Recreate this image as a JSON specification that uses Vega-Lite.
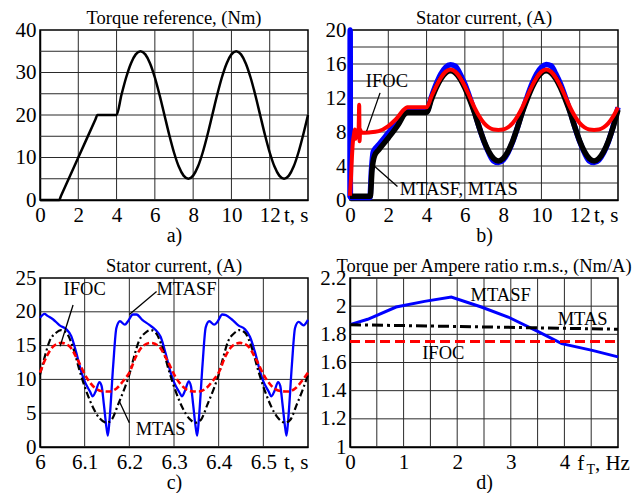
{
  "$schema": "https://vega.github.io/schema/vega-lite/v6.json",
  "background": "white",
  "padding": {"left": 14, "top": 7, "right": 0, "bottom": 0},
  "config": {
    "font": "Liberation Serif",
    "view": {"stroke": "black", "strokeWidth": 1.5},
    "axis": {
      "grid": false,
      "labelFont": "Liberation Serif", "labelFontSize": 21, "labelColor": "black",
      "tickSize": 0, "domainColor": "black", "domainWidth": 1.5,
      "labelOverlap": false, "labelFlush": false,
      "titleFont": "Liberation Serif", "titleFontSize": 20, "titleFontWeight": "normal", "titleColor": "black"
    },
    "axisX": {"labelPadding": 4, "titlePadding": 0},
    "axisY": {"labelPadding": 4},
    "title": {"font": "Liberation Serif", "fontSize": 18.5, "fontWeight": "normal", "color": "black", "baseline": "alphabetic", "offset": -8, "frame": "group"},
    "text": {"font": "Liberation Serif", "fontSize": 18.5, "color": "black"}
  },
  "datasets": {
    "gridA": [
      {"t": 2, "t2": 2, "torque": 0, "torque2": 40}, {"t": 4, "t2": 4, "torque": 0, "torque2": 40},
      {"t": 6, "t2": 6, "torque": 0, "torque2": 40}, {"t": 8, "t2": 8, "torque": 0, "torque2": 40},
      {"t": 10, "t2": 10, "torque": 0, "torque2": 40}, {"t": 12, "t2": 12, "torque": 0, "torque2": 40},
      {"t": 0, "t2": 14, "torque": 5, "torque2": 5}, {"t": 0, "t2": 14, "torque": 10, "torque2": 10},
      {"t": 0, "t2": 14, "torque": 15, "torque2": 15}, {"t": 0, "t2": 14, "torque": 20, "torque2": 20},
      {"t": 0, "t2": 14, "torque": 25, "torque2": 25}, {"t": 0, "t2": 14, "torque": 30, "torque2": 30},
      {"t": 0, "t2": 14, "torque": 35, "torque2": 35}
    ],
    "gridB": [
      {"t": 2, "t2": 2, "current": 0, "current2": 20}, {"t": 4, "t2": 4, "current": 0, "current2": 20},
      {"t": 6, "t2": 6, "current": 0, "current2": 20}, {"t": 8, "t2": 8, "current": 0, "current2": 20},
      {"t": 10, "t2": 10, "current": 0, "current2": 20}, {"t": 12, "t2": 12, "current": 0, "current2": 20},
      {"t": 0, "t2": 14, "current": 2, "current2": 2}, {"t": 0, "t2": 14, "current": 4, "current2": 4},
      {"t": 0, "t2": 14, "current": 6, "current2": 6}, {"t": 0, "t2": 14, "current": 8, "current2": 8},
      {"t": 0, "t2": 14, "current": 10, "current2": 10}, {"t": 0, "t2": 14, "current": 12, "current2": 12},
      {"t": 0, "t2": 14, "current": 14, "current2": 14}, {"t": 0, "t2": 14, "current": 16, "current2": 16},
      {"t": 0, "t2": 14, "current": 18, "current2": 18}
    ],
    "gridC": [
      {"t": 6.1, "t2": 6.1, "current": 0, "current2": 25}, {"t": 6.2, "t2": 6.2, "current": 0, "current2": 25},
      {"t": 6.3, "t2": 6.3, "current": 0, "current2": 25}, {"t": 6.4, "t2": 6.4, "current": 0, "current2": 25},
      {"t": 6.5, "t2": 6.5, "current": 0, "current2": 25},
      {"t": 6, "t2": 6.6, "current": 5, "current2": 5}, {"t": 6, "t2": 6.6, "current": 10, "current2": 10},
      {"t": 6, "t2": 6.6, "current": 15, "current2": 15}, {"t": 6, "t2": 6.6, "current": 20, "current2": 20}
    ],
    "gridD": [
      {"f": 0.5, "f2": 0.5, "ratio": 1, "ratio2": 2.2}, {"f": 1, "f2": 1, "ratio": 1, "ratio2": 2.2},
      {"f": 1.5, "f2": 1.5, "ratio": 1, "ratio2": 2.2}, {"f": 2, "f2": 2, "ratio": 1, "ratio2": 2.2},
      {"f": 2.5, "f2": 2.5, "ratio": 1, "ratio2": 2.2}, {"f": 3, "f2": 3, "ratio": 1, "ratio2": 2.2},
      {"f": 3.5, "f2": 3.5, "ratio": 1, "ratio2": 2.2}, {"f": 4, "f2": 4, "ratio": 1, "ratio2": 2.2},
      {"f": 4.5, "f2": 4.5, "ratio": 1, "ratio2": 2.2},
      {"f": 0, "f2": 5, "ratio": 1.2, "ratio2": 1.2}, {"f": 0, "f2": 5, "ratio": 1.4, "ratio2": 1.4},
      {"f": 0, "f2": 5, "ratio": 1.6, "ratio2": 1.6}, {"f": 0, "f2": 5, "ratio": 1.8, "ratio2": 1.8},
      {"f": 0, "f2": 5, "ratio": 2.0, "ratio2": 2.0}
    ],
    "torque": [
      {"t": 0, "torque": 0}, {"t": 1, "torque": 0}, {"t": 1.1, "torque": 1}, {"t": 2, "torque": 10}, {"t": 2.9, "torque": 19},
      {"t": 3, "torque": 20}, {"t": 4, "torque": 20},
      {"t": 4.25, "torque": 24.64}, {"t": 4.5, "torque": 28.82}, {"t": 4.75, "torque": 32.14}, {"t": 5, "torque": 34.27},
      {"t": 5.25, "torque": 35}, {"t": 5.5, "torque": 34.27}, {"t": 5.75, "torque": 32.14}, {"t": 6, "torque": 28.82},
      {"t": 6.25, "torque": 24.64}, {"t": 6.5, "torque": 20}, {"t": 6.75, "torque": 15.36}, {"t": 7, "torque": 11.18},
      {"t": 7.25, "torque": 7.86}, {"t": 7.5, "torque": 5.73}, {"t": 7.75, "torque": 5}, {"t": 8, "torque": 5.73},
      {"t": 8.25, "torque": 7.86}, {"t": 8.5, "torque": 11.18}, {"t": 8.75, "torque": 15.36}, {"t": 9, "torque": 20},
      {"t": 9.25, "torque": 24.64}, {"t": 9.5, "torque": 28.82}, {"t": 9.75, "torque": 32.14}, {"t": 10, "torque": 34.27},
      {"t": 10.25, "torque": 35}, {"t": 10.5, "torque": 34.27}, {"t": 10.75, "torque": 32.14}, {"t": 11, "torque": 28.82},
      {"t": 11.25, "torque": 24.64}, {"t": 11.5, "torque": 20}, {"t": 11.75, "torque": 15.36}, {"t": 12, "torque": 11.18},
      {"t": 12.25, "torque": 7.86}, {"t": 12.5, "torque": 5.73}, {"t": 12.75, "torque": 5}, {"t": 13, "torque": 5.73},
      {"t": 13.25, "torque": 7.86}, {"t": 13.5, "torque": 11.18}, {"t": 13.75, "torque": 15.36}, {"t": 14, "torque": 20}
    ],
    "statorB": [
      {"series": "MTASF", "t": 0, "current": 0.3}, {"series": "MTASF", "t": 0.01, "current": 20}, {"series": "MTASF", "t": 0.02, "current": 0.3},
      {"series": "MTASF", "t": 1.04, "current": 0.3}, {"series": "MTASF", "t": 1.12, "current": 3.5}, {"series": "MTASF", "t": 1.22, "current": 5.7},
      {"series": "MTASF", "t": 1.5, "current": 6.5}, {"series": "MTASF", "t": 2, "current": 7.9}, {"series": "MTASF", "t": 2.5, "current": 9.3},
      {"series": "MTASF", "t": 2.88, "current": 10.4}, {"series": "MTASF", "t": 3, "current": 10.45}, {"series": "MTASF", "t": 4, "current": 10.4},
      {"series": "MTASF", "t": 4.25, "current": 12.1}, {"series": "MTASF", "t": 4.5, "current": 13.63}, {"series": "MTASF", "t": 4.75, "current": 14.85},
      {"series": "MTASF", "t": 5, "current": 15.63}, {"series": "MTASF", "t": 5.25, "current": 15.9}, {"series": "MTASF", "t": 5.5, "current": 15.75},
      {"series": "MTASF", "t": 5.75, "current": 14.85}, {"series": "MTASF", "t": 6, "current": 13.63}, {"series": "MTASF", "t": 6.25, "current": 12.1},
      {"series": "MTASF", "t": 6.5, "current": 10.4}, {"series": "MTASF", "t": 6.75, "current": 8.55}, {"series": "MTASF", "t": 7, "current": 6.87},
      {"series": "MTASF", "t": 7.25, "current": 5.55}, {"series": "MTASF", "t": 7.5, "current": 4.6}, {"series": "MTASF", "t": 7.75, "current": 4.4},
      {"series": "MTASF", "t": 8, "current": 4.69}, {"series": "MTASF", "t": 8.25, "current": 5.55}, {"series": "MTASF", "t": 8.5, "current": 6.87},
      {"series": "MTASF", "t": 8.75, "current": 8.55}, {"series": "MTASF", "t": 9, "current": 10.4}, {"series": "MTASF", "t": 9.25, "current": 12.1},
      {"series": "MTASF", "t": 9.5, "current": 13.63}, {"series": "MTASF", "t": 9.75, "current": 14.85}, {"series": "MTASF", "t": 10, "current": 15.63},
      {"series": "MTASF", "t": 10.25, "current": 15.95}, {"series": "MTASF", "t": 10.5, "current": 15.8}, {"series": "MTASF", "t": 10.75, "current": 14.85},
      {"series": "MTASF", "t": 11, "current": 13.63}, {"series": "MTASF", "t": 11.25, "current": 12.1}, {"series": "MTASF", "t": 11.5, "current": 10.4},
      {"series": "MTASF", "t": 11.75, "current": 8.55}, {"series": "MTASF", "t": 12, "current": 6.87}, {"series": "MTASF", "t": 12.25, "current": 5.55},
      {"series": "MTASF", "t": 12.5, "current": 4.6}, {"series": "MTASF", "t": 12.75, "current": 4.4}, {"series": "MTASF", "t": 13, "current": 4.69},
      {"series": "MTASF", "t": 13.25, "current": 5.55}, {"series": "MTASF", "t": 13.5, "current": 6.87}, {"series": "MTASF", "t": 13.75, "current": 8.7},
      {"series": "MTASF", "t": 14, "current": 10.9},
      {"series": "MTAS", "t": 0, "current": 0.45}, {"series": "MTAS", "t": 1.06, "current": 0.45}, {"series": "MTAS", "t": 1.15, "current": 3.5},
      {"series": "MTAS", "t": 1.28, "current": 5.2}, {"series": "MTAS", "t": 1.5, "current": 5.9}, {"series": "MTAS", "t": 2, "current": 7.3},
      {"series": "MTAS", "t": 2.5, "current": 8.8}, {"series": "MTAS", "t": 2.9, "current": 10.2}, {"series": "MTAS", "t": 3, "current": 10.3},
      {"series": "MTAS", "t": 4, "current": 10.3},
      {"series": "MTAS", "t": 4.25, "current": 11.81}, {"series": "MTAS", "t": 4.5, "current": 13.18}, {"series": "MTAS", "t": 4.75, "current": 14.26},
      {"series": "MTAS", "t": 5, "current": 14.96}, {"series": "MTAS", "t": 5.25, "current": 15.2}, {"series": "MTAS", "t": 5.5, "current": 14.96},
      {"series": "MTAS", "t": 5.75, "current": 14.26}, {"series": "MTAS", "t": 6, "current": 13.18}, {"series": "MTAS", "t": 6.25, "current": 11.81},
      {"series": "MTAS", "t": 6.5, "current": 10.3}, {"series": "MTAS", "t": 6.75, "current": 8.54}, {"series": "MTAS", "t": 7, "current": 6.95},
      {"series": "MTAS", "t": 7.25, "current": 5.69}, {"series": "MTAS", "t": 7.5, "current": 4.88}, {"series": "MTAS", "t": 7.75, "current": 4.6},
      {"series": "MTAS", "t": 8, "current": 4.88}, {"series": "MTAS", "t": 8.25, "current": 5.69}, {"series": "MTAS", "t": 8.5, "current": 6.95},
      {"series": "MTAS", "t": 8.75, "current": 8.54}, {"series": "MTAS", "t": 9, "current": 10.3}, {"series": "MTAS", "t": 9.25, "current": 11.81},
      {"series": "MTAS", "t": 9.5, "current": 13.18}, {"series": "MTAS", "t": 9.75, "current": 14.26}, {"series": "MTAS", "t": 10, "current": 14.96},
      {"series": "MTAS", "t": 10.25, "current": 15.2}, {"series": "MTAS", "t": 10.5, "current": 14.96}, {"series": "MTAS", "t": 10.75, "current": 14.26},
      {"series": "MTAS", "t": 11, "current": 13.18}, {"series": "MTAS", "t": 11.25, "current": 11.81}, {"series": "MTAS", "t": 11.5, "current": 10.3},
      {"series": "MTAS", "t": 11.75, "current": 8.54}, {"series": "MTAS", "t": 12, "current": 6.95}, {"series": "MTAS", "t": 12.25, "current": 5.69},
      {"series": "MTAS", "t": 12.5, "current": 4.88}, {"series": "MTAS", "t": 12.75, "current": 4.6}, {"series": "MTAS", "t": 13, "current": 4.88},
      {"series": "MTAS", "t": 13.25, "current": 5.69}, {"series": "MTAS", "t": 13.5, "current": 6.95}, {"series": "MTAS", "t": 13.75, "current": 8.6},
      {"series": "MTAS", "t": 14, "current": 10.6},
      {"series": "IFOC", "t": 0, "current": 0.5}, {"series": "IFOC", "t": 0.05, "current": 2.5}, {"series": "IFOC", "t": 0.1, "current": 5},
      {"series": "IFOC", "t": 0.15, "current": 6.8}, {"series": "IFOC", "t": 0.2, "current": 7.6}, {"series": "IFOC", "t": 0.25, "current": 8.3},
      {"series": "IFOC", "t": 0.3, "current": 7.2}, {"series": "IFOC", "t": 0.35, "current": 8.2}, {"series": "IFOC", "t": 0.4, "current": 7.4},
      {"series": "IFOC", "t": 0.45, "current": 8.2}, {"series": "IFOC", "t": 0.48, "current": 11.2}, {"series": "IFOC", "t": 0.5, "current": 6.9},
      {"series": "IFOC", "t": 0.53, "current": 8.3}, {"series": "IFOC", "t": 0.6, "current": 7.9}, {"series": "IFOC", "t": 1, "current": 7.95},
      {"series": "IFOC", "t": 1.5, "current": 8.1}, {"series": "IFOC", "t": 2, "current": 8.7}, {"series": "IFOC", "t": 2.4, "current": 9.5},
      {"series": "IFOC", "t": 2.9, "current": 10.8}, {"series": "IFOC", "t": 3, "current": 10.9}, {"series": "IFOC", "t": 4, "current": 10.9},
      {"series": "IFOC", "t": 4.25, "current": 12.15}, {"series": "IFOC", "t": 4.5, "current": 13.38}, {"series": "IFOC", "t": 4.75, "current": 14.4},
      {"series": "IFOC", "t": 5, "current": 15.1}, {"series": "IFOC", "t": 5.25, "current": 15.35}, {"series": "IFOC", "t": 5.5, "current": 15.1},
      {"series": "IFOC", "t": 5.75, "current": 14.4}, {"series": "IFOC", "t": 6, "current": 13.38}, {"series": "IFOC", "t": 6.25, "current": 12.15},
      {"series": "IFOC", "t": 6.5, "current": 10.9}, {"series": "IFOC", "t": 6.75, "current": 9.85}, {"series": "IFOC", "t": 7, "current": 9.05},
      {"series": "IFOC", "t": 7.25, "current": 8.55}, {"series": "IFOC", "t": 7.5, "current": 8.3}, {"series": "IFOC", "t": 7.75, "current": 8.25},
      {"series": "IFOC", "t": 8, "current": 8.3}, {"series": "IFOC", "t": 8.25, "current": 8.55}, {"series": "IFOC", "t": 8.5, "current": 9.05},
      {"series": "IFOC", "t": 8.75, "current": 9.85}, {"series": "IFOC", "t": 9, "current": 10.9}, {"series": "IFOC", "t": 9.25, "current": 12.15},
      {"series": "IFOC", "t": 9.5, "current": 13.38}, {"series": "IFOC", "t": 9.75, "current": 14.4}, {"series": "IFOC", "t": 10, "current": 15.1},
      {"series": "IFOC", "t": 10.25, "current": 15.35}, {"series": "IFOC", "t": 10.5, "current": 15.1}, {"series": "IFOC", "t": 10.75, "current": 14.4},
      {"series": "IFOC", "t": 11, "current": 13.38}, {"series": "IFOC", "t": 11.25, "current": 12.15}, {"series": "IFOC", "t": 11.5, "current": 10.9},
      {"series": "IFOC", "t": 11.75, "current": 9.85}, {"series": "IFOC", "t": 12, "current": 9.05}, {"series": "IFOC", "t": 12.25, "current": 8.55},
      {"series": "IFOC", "t": 12.5, "current": 8.3}, {"series": "IFOC", "t": 12.75, "current": 8.25}, {"series": "IFOC", "t": 13, "current": 8.3},
      {"series": "IFOC", "t": 13.25, "current": 8.55}, {"series": "IFOC", "t": 13.5, "current": 9.05}, {"series": "IFOC", "t": 13.75, "current": 9.85},
      {"series": "IFOC", "t": 14, "current": 10.9}
    ],
    "notesB": [
      {"t": 1.93, "current": 14.0, "label": "IFOC"},
      {"t": 5.68, "current": 1.35, "label": "MTASF, MTAS"}
    ],
    "leadersB": [
      {"t": 1.57, "current": 12.6, "t2": 0.87, "current2": 8.1},
      {"t": 2.48, "current": 1.6, "t2": 1.22, "current2": 4.1}
    ],
    "statorC": [
      {"series": "MTASF", "t": 6.000, "current": 19.1}, {"series": "MTASF", "t": 6.010, "current": 19.7}, {"series": "MTASF", "t": 6.017, "current": 19.4},
      {"series": "MTASF", "t": 6.029, "current": 18.9}, {"series": "MTASF", "t": 6.044, "current": 18.0}, {"series": "MTASF", "t": 6.059, "current": 17.4},
      {"series": "MTASF", "t": 6.070, "current": 16.4}, {"series": "MTASF", "t": 6.081, "current": 14.0}, {"series": "MTASF", "t": 6.093, "current": 11.0},
      {"series": "MTASF", "t": 6.100, "current": 9.7}, {"series": "MTASF", "t": 6.112, "current": 8.2}, {"series": "MTASF", "t": 6.118, "current": 7.5},
      {"series": "MTASF", "t": 6.125, "current": 8.3}, {"series": "MTASF", "t": 6.133, "current": 9.6}, {"series": "MTASF", "t": 6.138, "current": 9.0},
      {"series": "MTASF", "t": 6.143, "current": 6.3}, {"series": "MTASF", "t": 6.149, "current": 2.8}, {"series": "MTASF", "t": 6.152, "current": 1.7},
      {"series": "MTASF", "t": 6.156, "current": 4.3}, {"series": "MTASF", "t": 6.164, "current": 12.2}, {"series": "MTASF", "t": 6.171, "current": 17.6},
      {"series": "MTASF", "t": 6.179, "current": 18.6}, {"series": "MTASF", "t": 6.190, "current": 18.1}, {"series": "MTASF", "t": 6.197, "current": 18.6},
      {"series": "MTASF", "t": 6.208, "current": 19.6}, {"series": "MTASF", "t": 6.216, "current": 19.6}, {"series": "MTASF", "t": 6.229, "current": 18.8},
      {"series": "MTASF", "t": 6.244, "current": 18.1}, {"series": "MTASF", "t": 6.259, "current": 17.3}, {"series": "MTASF", "t": 6.270, "current": 16.3},
      {"series": "MTASF", "t": 6.281, "current": 13.9}, {"series": "MTASF", "t": 6.293, "current": 10.9}, {"series": "MTASF", "t": 6.300, "current": 9.6},
      {"series": "MTASF", "t": 6.312, "current": 8.1}, {"series": "MTASF", "t": 6.318, "current": 7.5}, {"series": "MTASF", "t": 6.325, "current": 8.4},
      {"series": "MTASF", "t": 6.333, "current": 9.7}, {"series": "MTASF", "t": 6.338, "current": 9.0}, {"series": "MTASF", "t": 6.343, "current": 6.2},
      {"series": "MTASF", "t": 6.349, "current": 2.7}, {"series": "MTASF", "t": 6.352, "current": 1.7}, {"series": "MTASF", "t": 6.356, "current": 4.4},
      {"series": "MTASF", "t": 6.364, "current": 12.3}, {"series": "MTASF", "t": 6.371, "current": 17.7}, {"series": "MTASF", "t": 6.379, "current": 18.6},
      {"series": "MTASF", "t": 6.390, "current": 18.1}, {"series": "MTASF", "t": 6.397, "current": 18.5},
      {"series": "MTASF", "t": 6.408, "current": 19.6}, {"series": "MTASF", "t": 6.416, "current": 19.5}, {"series": "MTASF", "t": 6.429, "current": 18.9},
      {"series": "MTASF", "t": 6.444, "current": 18.0}, {"series": "MTASF", "t": 6.459, "current": 17.4}, {"series": "MTASF", "t": 6.470, "current": 16.3},
      {"series": "MTASF", "t": 6.481, "current": 14.1}, {"series": "MTASF", "t": 6.493, "current": 11.1}, {"series": "MTASF", "t": 6.500, "current": 9.7},
      {"series": "MTASF", "t": 6.512, "current": 8.2}, {"series": "MTASF", "t": 6.518, "current": 7.5}, {"series": "MTASF", "t": 6.525, "current": 8.3},
      {"series": "MTASF", "t": 6.533, "current": 9.6}, {"series": "MTASF", "t": 6.538, "current": 9.0}, {"series": "MTASF", "t": 6.543, "current": 6.3},
      {"series": "MTASF", "t": 6.549, "current": 2.8}, {"series": "MTASF", "t": 6.552, "current": 1.7}, {"series": "MTASF", "t": 6.556, "current": 4.3},
      {"series": "MTASF", "t": 6.564, "current": 12.2}, {"series": "MTASF", "t": 6.571, "current": 17.6}, {"series": "MTASF", "t": 6.579, "current": 18.5},
      {"series": "MTASF", "t": 6.590, "current": 18.0}, {"series": "MTASF", "t": 6.600, "current": 18.8},
      {"series": "MTAS", "t": 6.000, "current": 10.7}, {"series": "MTAS", "t": 6.010, "current": 13.2}, {"series": "MTAS", "t": 6.021, "current": 15.6},
      {"series": "MTAS", "t": 6.036, "current": 16.9}, {"series": "MTAS", "t": 6.047, "current": 17.3}, {"series": "MTAS", "t": 6.059, "current": 16.9},
      {"series": "MTAS", "t": 6.074, "current": 14.7}, {"series": "MTAS", "t": 6.089, "current": 11.2}, {"series": "MTAS", "t": 6.104, "current": 8.2},
      {"series": "MTAS", "t": 6.119, "current": 5.8}, {"series": "MTAS", "t": 6.134, "current": 4.2}, {"series": "MTAS", "t": 6.149, "current": 3.6},
      {"series": "MTAS", "t": 6.160, "current": 4.0}, {"series": "MTAS", "t": 6.175, "current": 6.3}, {"series": "MTAS", "t": 6.190, "current": 8.8},
      {"series": "MTAS", "t": 6.200, "current": 10.7}, {"series": "MTAS", "t": 6.210, "current": 13.2}, {"series": "MTAS", "t": 6.221, "current": 15.6},
      {"series": "MTAS", "t": 6.236, "current": 16.9}, {"series": "MTAS", "t": 6.247, "current": 17.3}, {"series": "MTAS", "t": 6.259, "current": 16.9},
      {"series": "MTAS", "t": 6.274, "current": 14.7}, {"series": "MTAS", "t": 6.289, "current": 11.2}, {"series": "MTAS", "t": 6.304, "current": 8.2},
      {"series": "MTAS", "t": 6.319, "current": 5.8}, {"series": "MTAS", "t": 6.334, "current": 4.2}, {"series": "MTAS", "t": 6.349, "current": 3.6},
      {"series": "MTAS", "t": 6.360, "current": 4.0}, {"series": "MTAS", "t": 6.375, "current": 6.3}, {"series": "MTAS", "t": 6.390, "current": 8.8},
      {"series": "MTAS", "t": 6.400, "current": 10.7}, {"series": "MTAS", "t": 6.410, "current": 13.2}, {"series": "MTAS", "t": 6.421, "current": 15.6},
      {"series": "MTAS", "t": 6.436, "current": 16.9}, {"series": "MTAS", "t": 6.447, "current": 17.3}, {"series": "MTAS", "t": 6.459, "current": 16.9},
      {"series": "MTAS", "t": 6.474, "current": 14.7}, {"series": "MTAS", "t": 6.489, "current": 11.2}, {"series": "MTAS", "t": 6.504, "current": 8.2},
      {"series": "MTAS", "t": 6.519, "current": 5.8}, {"series": "MTAS", "t": 6.534, "current": 4.2}, {"series": "MTAS", "t": 6.549, "current": 3.6},
      {"series": "MTAS", "t": 6.560, "current": 4.0}, {"series": "MTAS", "t": 6.575, "current": 6.3}, {"series": "MTAS", "t": 6.590, "current": 8.8},
      {"series": "MTAS", "t": 6.600, "current": 10.7},
      {"series": "IFOC", "t": 6.000, "current": 11.0}, {"series": "IFOC", "t": 6.015, "current": 13.4}, {"series": "IFOC", "t": 6.030, "current": 14.9},
      {"series": "IFOC", "t": 6.048, "current": 15.4}, {"series": "IFOC", "t": 6.066, "current": 14.9}, {"series": "IFOC", "t": 6.085, "current": 12.8},
      {"series": "IFOC", "t": 6.104, "current": 10.3}, {"series": "IFOC", "t": 6.122, "current": 8.8}, {"series": "IFOC", "t": 6.140, "current": 8.25},
      {"series": "IFOC", "t": 6.155, "current": 8.2}, {"series": "IFOC", "t": 6.172, "current": 8.7}, {"series": "IFOC", "t": 6.188, "current": 9.9},
      {"series": "IFOC", "t": 6.200, "current": 11.0}, {"series": "IFOC", "t": 6.215, "current": 13.4}, {"series": "IFOC", "t": 6.230, "current": 14.9},
      {"series": "IFOC", "t": 6.248, "current": 15.4}, {"series": "IFOC", "t": 6.266, "current": 14.9}, {"series": "IFOC", "t": 6.285, "current": 12.8},
      {"series": "IFOC", "t": 6.304, "current": 10.3}, {"series": "IFOC", "t": 6.322, "current": 8.8}, {"series": "IFOC", "t": 6.340, "current": 8.25},
      {"series": "IFOC", "t": 6.355, "current": 8.2}, {"series": "IFOC", "t": 6.372, "current": 8.7}, {"series": "IFOC", "t": 6.388, "current": 9.9},
      {"series": "IFOC", "t": 6.400, "current": 11.0}, {"series": "IFOC", "t": 6.415, "current": 13.4}, {"series": "IFOC", "t": 6.430, "current": 14.9},
      {"series": "IFOC", "t": 6.448, "current": 15.4}, {"series": "IFOC", "t": 6.466, "current": 14.9}, {"series": "IFOC", "t": 6.485, "current": 12.8},
      {"series": "IFOC", "t": 6.504, "current": 10.3}, {"series": "IFOC", "t": 6.522, "current": 8.8}, {"series": "IFOC", "t": 6.540, "current": 8.25},
      {"series": "IFOC", "t": 6.555, "current": 8.2}, {"series": "IFOC", "t": 6.572, "current": 8.7}, {"series": "IFOC", "t": 6.588, "current": 9.9},
      {"series": "IFOC", "t": 6.600, "current": 11.0}
    ],
    "notesC": [
      {"t": 6.10, "current": 23.3, "label": "IFOC"},
      {"t": 6.328, "current": 23.3, "label": "MTASF"},
      {"t": 6.27, "current": 2.6, "label": "MTAS"}
    ],
    "leadersC": [
      {"t": 6.074, "current": 21.0, "t2": 6.045, "current2": 14.9},
      {"t": 6.261, "current": 23.0, "t2": 6.2, "current2": 19.6},
      {"t": 6.2, "current": 3.6, "t2": 6.178, "current2": 6.7}
    ],
    "ratio": [
      {"series": "MTASF", "f": 0, "ratio": 1.869}, {"series": "MTASF", "f": 0.33, "ratio": 1.907}, {"series": "MTASF", "f": 0.86, "ratio": 1.994},
      {"series": "MTASF", "f": 1.39, "ratio": 2.034}, {"series": "MTASF", "f": 1.89, "ratio": 2.065}, {"series": "MTASF", "f": 2.45, "ratio": 1.994},
      {"series": "MTASF", "f": 2.95, "ratio": 1.923}, {"series": "MTASF", "f": 3.52, "ratio": 1.817}, {"series": "MTASF", "f": 3.95, "ratio": 1.734},
      {"series": "MTASF", "f": 4.52, "ratio": 1.686}, {"series": "MTASF", "f": 5, "ratio": 1.64},
      {"series": "MTAS", "f": 0, "ratio": 1.868}, {"series": "MTAS", "f": 2, "ratio": 1.856}, {"series": "MTAS", "f": 5, "ratio": 1.836},
      {"series": "IFOC", "f": 0, "ratio": 1.75}, {"series": "IFOC", "f": 5, "ratio": 1.75}
    ],
    "notesD": [
      {"f": 2.81, "ratio": 2.08, "label": "MTASF"},
      {"f": 4.34, "ratio": 1.91, "label": "MTAS"},
      {"f": 1.74, "ratio": 1.67, "label": "IFOC"}
    ],
    "axisTitleD": [
      {"f": 4.24, "ratio": 0.879, "label": "f"},
      {"f": 4.57, "ratio": 0.879, "label": ", Hz"}
    ],
    "axisSubD": [
      {"f": 4.41, "ratio": 0.84, "label": "T"}
    ]
  },
  "bounds": "flush",
  "columns": 2,
  "spacing": {"row": 78, "column": 42},
  "concat": [
    {
      "width": 268, "height": 170,
      "title": "Torque reference, (Nm)",
      "encoding": {
        "x": {"field": "t", "type": "quantitative", "scale": {"domain": [0, 14], "nice": false},
          "axis": {"values": [0, 2, 4, 6, 8, 10, 12, 14], "title": "a)",
            "labelExpr": "datum.value == 14 ? 't, s' : datum.label",
            "labelAlign": {"condition": {"test": "datum.value == 14", "value": "right"}, "value": "center"}}},
        "y": {"field": "torque", "type": "quantitative", "scale": {"domain": [0, 40], "nice": false},
          "axis": {"values": [0, 10, 20, 30, 40], "title": null}}
      },
      "layer": [
        {"data": {"name": "gridA"}, "mark": {"type": "rule", "color": "#2a2a2a", "strokeWidth": 1},
          "encoding": {"x2": {"field": "t2"}, "y2": {"field": "torque2"}}},
        {"data": {"name": "torque"},
          "mark": {"type": "line", "color": "black", "strokeWidth": 2.5, "interpolate": "monotone"}}
      ]
    },
    {
      "width": 268, "height": 170,
      "title": "Stator current, (A)",
      "encoding": {
        "x": {"field": "t", "type": "quantitative", "scale": {"domain": [0, 14], "nice": false},
          "axis": {"values": [0, 2, 4, 6, 8, 10, 12, 14], "title": "b)",
            "labelExpr": "datum.value == 14 ? 't, s' : datum.label",
            "labelAlign": {"condition": {"test": "datum.value == 14", "value": "right"}, "value": "center"}}},
        "y": {"field": "current", "type": "quantitative", "scale": {"domain": [0, 20], "nice": false},
          "axis": {"values": [0, 4, 8, 12, 16, 20], "title": null}}
      },
      "layer": [
        {"data": {"name": "gridB"}, "mark": {"type": "rule", "color": "#2a2a2a", "strokeWidth": 1},
          "encoding": {"x2": {"field": "t2"}, "y2": {"field": "current2"}}},
        {"data": {"name": "statorB"}, "transform": [{"filter": "datum.series == 'MTASF'"}],
          "mark": {"type": "line", "color": "#0000ff", "strokeWidth": 5.5, "interpolate": "monotone"}},
        {"data": {"name": "statorB"}, "transform": [{"filter": "datum.series == 'MTAS'"}],
          "mark": {"type": "line", "color": "black", "strokeWidth": 5.5, "interpolate": "monotone"}},
        {"data": {"name": "statorB"}, "transform": [{"filter": "datum.series == 'IFOC'"}],
          "mark": {"type": "line", "color": "#ff0000", "strokeWidth": 4, "interpolate": "monotone"}},
        {"data": {"name": "leadersB"}, "mark": {"type": "rule", "color": "black", "strokeWidth": 1.3},
          "encoding": {"x2": {"field": "t2"}, "y2": {"field": "current2"}}},
        {"data": {"name": "notesB"}, "mark": {"type": "text", "align": "center", "baseline": "middle"},
          "encoding": {"text": {"field": "label", "type": "nominal"}}}
      ]
    },
    {
      "width": 268, "height": 169,
      "title": "Stator current, (A)",
      "encoding": {
        "x": {"field": "t", "type": "quantitative", "scale": {"domain": [6, 6.6], "nice": false, "zero": false},
          "axis": {"values": [6, 6.1, 6.2, 6.3, 6.4, 6.5, 6.6], "title": "c)", "format": ".1~f",
            "labelExpr": "datum.value > 6.55 ? 't, s' : datum.label",
            "labelAlign": {"condition": {"test": "datum.value > 6.55", "value": "right"}, "value": "center"}}},
        "y": {"field": "current", "type": "quantitative", "scale": {"domain": [0, 25], "nice": false},
          "axis": {"values": [0, 5, 10, 15, 20, 25], "title": null}}
      },
      "layer": [
        {"data": {"name": "gridC"}, "mark": {"type": "rule", "color": "#2a2a2a", "strokeWidth": 1},
          "encoding": {"x2": {"field": "t2"}, "y2": {"field": "current2"}}},
        {"data": {"name": "statorC"}, "transform": [{"filter": "datum.series == 'MTASF'"}],
          "mark": {"type": "line", "color": "#0000ff", "strokeWidth": 2.3, "interpolate": "monotone"}},
        {"data": {"name": "statorC"}, "transform": [{"filter": "datum.series == 'MTAS'"}],
          "mark": {"type": "line", "color": "black", "strokeWidth": 2.2, "strokeDash": [7, 3, 2, 3], "interpolate": "monotone"}},
        {"data": {"name": "statorC"}, "transform": [{"filter": "datum.series == 'IFOC'"}],
          "mark": {"type": "line", "color": "#ff0000", "strokeWidth": 2.6, "strokeDash": [6, 3], "interpolate": "monotone"}},
        {"data": {"name": "leadersC"}, "mark": {"type": "rule", "color": "black", "strokeWidth": 1.3},
          "encoding": {"x2": {"field": "t2"}, "y2": {"field": "current2"}}},
        {"data": {"name": "notesC"}, "mark": {"type": "text", "align": "center", "baseline": "middle"},
          "encoding": {"text": {"field": "label", "type": "nominal"}}}
      ]
    },
    {
      "width": 268, "height": 169,
      "title": "Torque per Ampere ratio r.m.s., (Nm/A)",
      "encoding": {
        "x": {"field": "f", "type": "quantitative", "scale": {"domain": [0, 5], "nice": false},
          "axis": {"values": [0, 1, 2, 3, 4], "title": "d)"}},
        "y": {"field": "ratio", "type": "quantitative", "scale": {"domain": [1, 2.2], "nice": false, "zero": false},
          "axis": {"values": [1, 1.2, 1.4, 1.6, 1.8, 2, 2.2], "title": null, "format": ".1~f"}}
      },
      "layer": [
        {"data": {"name": "gridD"}, "mark": {"type": "rule", "color": "#2a2a2a", "strokeWidth": 1},
          "encoding": {"x2": {"field": "f2"}, "y2": {"field": "ratio2"}}},
        {"data": {"name": "ratio"}, "transform": [{"filter": "datum.series == 'MTASF'"}],
          "mark": {"type": "line", "color": "#0000ff", "strokeWidth": 3}},
        {"data": {"name": "ratio"}, "transform": [{"filter": "datum.series == 'MTAS'"}],
          "mark": {"type": "line", "color": "black", "strokeWidth": 3, "strokeDash": [11, 4, 3, 4]}},
        {"data": {"name": "ratio"}, "transform": [{"filter": "datum.series == 'IFOC'"}],
          "mark": {"type": "line", "color": "#ff0000", "strokeWidth": 3, "strokeDash": [10, 5]}},
        {"data": {"name": "notesD"}, "mark": {"type": "text", "align": "center", "baseline": "middle"},
          "encoding": {"text": {"field": "label", "type": "nominal"}}},
        {"data": {"name": "axisTitleD"}, "mark": {"type": "text", "align": "left", "baseline": "middle", "fontSize": 21},
          "encoding": {"text": {"field": "label", "type": "nominal"}}},
        {"data": {"name": "axisSubD"}, "mark": {"type": "text", "align": "left", "baseline": "middle", "fontSize": 14},
          "encoding": {"text": {"field": "label", "type": "nominal"}}}
      ]
    }
  ]
}
